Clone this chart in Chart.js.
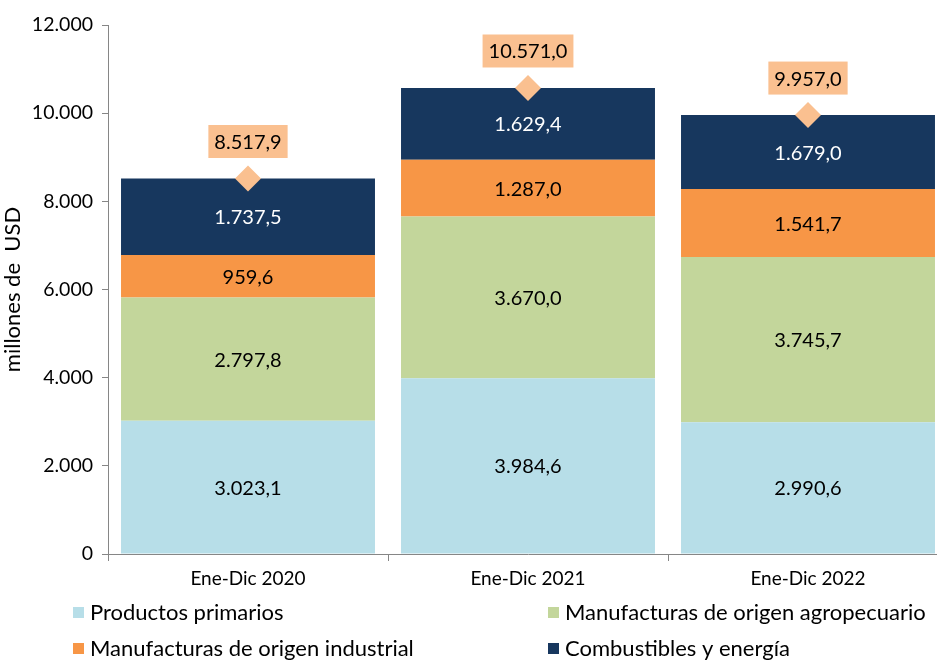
<!DOCTYPE html>
<html>
<head>
<meta charset="utf-8">
<script src="https://cdn.jsdelivr.net/npm/chart.js@4.4.1/dist/chart.umd.min.js"></script>
<style>
    html, body { margin: 0; padding: 0; background: #fff; overflow: hidden; }
    canvas { display: block; }
</style>
</head>
<body>
<canvas id="grafico" width="962" height="660" style="width:962px;height:660px"></canvas>
<script>
const categorias = ['Ene-Dic 2020', 'Ene-Dic 2021', 'Ene-Dic 2022'];
const primarios = [3023.1, 3984.6, 2990.6];
const agropecuario = [2797.8, 3670.0, 3745.7];
const industrial = [959.6, 1287.0, 1541.7];
const combustibles = [1737.5, 1629.4, 1679.0];
const totales = [8517.9, 10571.0, 9957.0];

const fuente = 'Lato, "Open Sans", sans-serif';

function formatea(valor, decimales) {
    const partes = valor.toFixed(decimales).split('.');
    partes[0] = partes[0].replace(/\B(?=(\d{3})+(?!\d))/g, '.');
    return partes.join(',');
}

const etiquetas = {
    id: 'etiquetas',
    afterDatasetsDraw(chart) {
        const ctx = chart.ctx;
        ctx.save();
        ctx.font = '20px ' + fuente;
        ctx.textAlign = 'center';
        ctx.textBaseline = 'middle';
        chart.data.datasets.forEach((dataset, i) => {
            const meta = chart.getDatasetMeta(i);
            meta.data.forEach((el, j) => {
                const texto = formatea(dataset.data[j], 1);
                if (dataset.type === 'line') {
                    const ancho = ctx.measureText(texto).width + 12;
                    const cy = el.y - 37;
                    ctx.fillStyle = '#FAC090';
                    ctx.fillRect(el.x - ancho / 2, cy - 16.5, ancho, 33);
                    ctx.fillStyle = '#000';
                    ctx.fillText(texto, el.x, cy + 1);
                } else {
                    ctx.fillStyle = dataset.colorTexto;
                    ctx.fillText(texto, el.x, (el.y + el.base) / 2 + 1);
                }
            });
        });
        ctx.restore();
    },
    afterDraw(chart) {
        const ctx = chart.ctx;
        const items = [
            [0, 73, 612], [1, 548, 612],
            [2, 73, 648], [3, 548, 648]
        ];
        ctx.save();
        ctx.font = '22px ' + fuente;
        ctx.textBaseline = 'middle';
        ctx.textAlign = 'left';
        items.forEach(([i, x, y]) => {
            const ds = chart.data.datasets[i];
            ctx.fillStyle = ds.backgroundColor;
            ctx.fillRect(x, y - 5, 11, 11);
            ctx.fillStyle = '#000';
            ctx.fillText(ds.label, x + 17, y + 1);
        });
        ctx.restore();
    }
};

const barra = (label, data, color, colorTexto) => ({
    type: 'bar',
    label,
    data,
    backgroundColor: color,
    colorTexto,
    stack: 'exportaciones',
    order: 1,
    categoryPercentage: 1,
    barPercentage: 0.907
});

const grafico = new Chart(document.getElementById('grafico'), {
    data: {
        labels: categorias,
        datasets: [
            barra('Productos primarios', primarios, '#B7DEE8', '#000'),
            barra('Manufacturas de origen agropecuario', agropecuario, '#C3D69B', '#000'),
            barra('Manufacturas de origen industrial', industrial, '#F79646', '#000'),
            barra('Combustibles y energía', combustibles, '#17375E', '#fff'),
            {
                type: 'line',
                label: 'Total',
                data: totales,
                stack: 'total',
                order: 0,
                showLine: false,
                pointStyle: 'rectRot',
                pointRadius: 13,
                backgroundColor: '#FAC090',
                borderColor: '#FAC090',
                borderWidth: 0
            }
        ]
    },
    options: {
        responsive: false,
        animation: false,
        layout: { padding: { top: 25, right: 14, bottom: 66, left: 0 } },
        plugins: {
            legend: { display: false },
            tooltip: { enabled: false }
        },
        scales: {
            x: {
                stacked: true,
                grid: { display: true, drawOnChartArea: false, tickLength: 7, color: '#868686' },
                border: { color: '#868686' },
                ticks: { color: '#000', font: { family: fuente, size: 19 }, padding: 6 },
                afterFit(scale) { scale.height = 40; }
            },
            y: {
                stacked: true,
                min: 0,
                max: 12000,
                grid: { display: true, drawOnChartArea: false, tickLength: 6, color: '#868686' },
                border: { color: '#868686' },
                ticks: {
                    stepSize: 2000,
                    color: '#000',
                    font: { family: fuente, size: 19.5 },
                    padding: 9,
                    callback: (v) => formatea(v, 0)
                },
                title: {
                    display: true,
                    text: 'millones de  USD',
                    color: '#000',
                    font: { family: fuente, size: 22 },
                    padding: { top: 0, bottom: 0 }
                },
                afterFit(scale) { scale.width = 108; }
            }
        }
    },
    plugins: [etiquetas]
});
</script>
</body>
</html>
